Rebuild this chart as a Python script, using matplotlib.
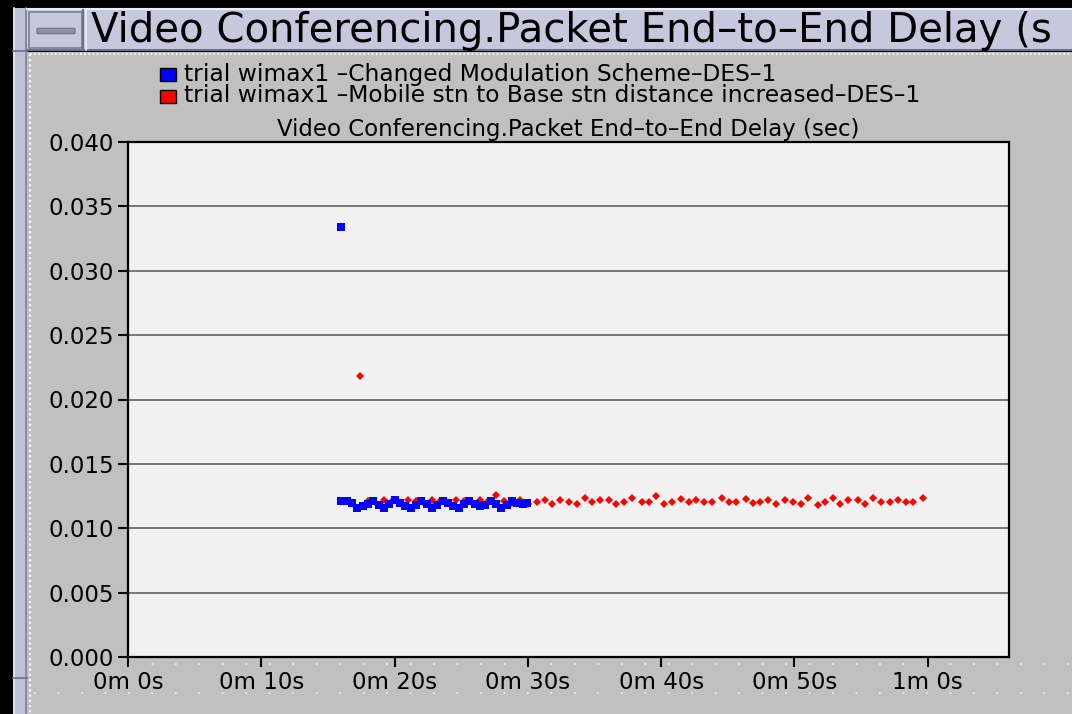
import matplotlib
matplotlib.use("Agg")
import matplotlib.pyplot as plt
from matplotlib.patches import Rectangle, FancyBboxPatch
from matplotlib.lines import Line2D

# ---------------- data ----------------
blue_label = "trial wimax1 –Changed Modulation Scheme–DES–1"
red_label = "trial wimax1 –Mobile stn to Base stn distance increased–DES–1"
window_title = "Video Conferencing.Packet End–to–End Delay (s"
axes_title = "Video Conferencing.Packet End–to–End Delay (sec)"

x_ticks = [0, 10, 20, 30, 40, 50, 60]
x_tick_labels = ["0m 0s", "0m 10s", "0m 20s", "0m 30s", "0m 40s", "0m 50s", "1m 0s"]
y_ticks = [0.0, 0.005, 0.010, 0.015, 0.020, 0.025, 0.030, 0.035, 0.040]
y_tick_labels = ["0.000", "0.005", "0.010", "0.015", "0.020", "0.025", "0.030", "0.035", "0.040"]

blue_times = [15.95, 16.0, 16.4, 16.8, 17.2, 17.6, 18.0, 18.4, 18.8, 19.2, 19.6, 20.0,
              20.4, 20.8, 21.2, 21.6, 22.0, 22.4, 22.8, 23.2, 23.6, 24.0, 24.4, 24.8,
              25.2, 25.6, 26.0, 26.4, 26.8, 27.2, 27.6, 28.0, 28.4, 28.8, 29.2, 29.6, 29.9]
blue_delay = [0.0334, 0.0121, 0.0121, 0.0120, 0.0116, 0.0117, 0.0119, 0.0121, 0.0118,
              0.0116, 0.0119, 0.0122, 0.0120, 0.0117, 0.0116, 0.0118, 0.0121, 0.0119,
              0.0116, 0.0118, 0.0121, 0.0120, 0.0117, 0.0116, 0.0119, 0.0121, 0.0119,
              0.0117, 0.0118, 0.0121, 0.0119, 0.0116, 0.0118, 0.0121, 0.0120, 0.0119, 0.0120]

red_times = [17.4, 18.0, 18.6, 19.2, 19.8, 20.4, 21.0, 21.6, 22.2, 22.8, 23.4, 24.0,
             24.6, 25.2, 25.8, 26.4, 27.0, 27.6, 28.2, 28.8, 29.4, 30.0,
             30.65, 31.28, 31.83, 32.40, 33.10, 33.70, 34.28, 34.85, 35.40, 36.10,
             36.65, 37.23, 37.83, 38.53, 39.10, 39.65, 40.20, 40.83, 41.50, 42.08,
             42.65, 43.20, 43.85, 44.53, 45.10, 45.65, 46.35, 46.90, 47.45, 48.03,
             48.60, 49.33, 49.90, 50.48, 51.05, 51.78, 52.33, 52.90, 53.45, 54.05,
             54.78, 55.33, 55.90, 56.53, 57.15, 57.78, 58.35, 58.90, 59.65]
red_delay = [0.0218, 0.0121, 0.0120, 0.0122, 0.0121, 0.0120, 0.0122, 0.0121, 0.0120,
             0.0122, 0.0121, 0.0120, 0.0122, 0.0121, 0.0120, 0.0122, 0.0121, 0.0126,
             0.0121, 0.0120, 0.0122, 0.0119,
             0.01206, 0.01219, 0.01188, 0.01219, 0.01206, 0.01188, 0.01232, 0.01206,
             0.01219, 0.01219, 0.01188, 0.01206, 0.01232, 0.01206, 0.01206, 0.01250,
             0.01188, 0.01206, 0.01225, 0.01206, 0.01219, 0.01206, 0.01206, 0.01232,
             0.01206, 0.01206, 0.01225, 0.01194, 0.01206, 0.01219, 0.01188, 0.01219,
             0.01206, 0.01188, 0.01232, 0.01181, 0.01206, 0.01232, 0.01188, 0.01219,
             0.01219, 0.01188, 0.01232, 0.01206, 0.01206, 0.01219, 0.01206, 0.01206,
             0.01232]

# ---------------- figure ----------------
W, H = 1072, 714
fig = plt.figure(figsize=(W / 100, H / 100), dpi=100, facecolor="black")


def frect(x0, y0, x1, y1, **kw):
    r = Rectangle((x0 / W, 1 - y1 / H), (x1 - x0) / W, (y1 - y0) / H,
                  transform=fig.transFigure, **kw)
    fig.add_artist(r)
    return r


def fline(xs, ys, **kw):
    fig.add_artist(Line2D([x / W for x in xs], [1 - y / H for y in ys],
                          transform=fig.transFigure, **kw))


# left strip
frect(13, 8, 27, 714, facecolor="#bfc2d6", edgecolor="none")
fline([14, 14], [8, 714], color="#e6e8f2", lw=1.2)
fline([26, 26], [8, 714], color="#7c8096", lw=1.2)
fline([13, 27], [51, 51], color="#6e7288", lw=1.2)
fline([13, 27], [678, 678], color="#6e7288", lw=1.2)

# title bar
frect(27, 8, 1072, 51, facecolor="#c6c9dd", edgecolor="none")
fline([27, 1072], [9, 9], color="#eceef6", lw=1.5)
fline([27, 1072], [50, 50], color="#6e7288", lw=1.5)
frect(29, 12, 82, 48, facecolor="#c6c9dd", edgecolor="#7c8096", lw=1.2)
fline([83, 83], [10, 50], color="#6e7288", lw=1.5)
fline([86, 86], [10, 50], color="#eceef6", lw=1.2)
fig.add_artist(FancyBboxPatch((38 / W, 1 - 33 / H), 36 / W, 4 / H,
                              boxstyle="round,pad=0.001", transform=fig.transFigure,
                              facecolor="#8d93ad", edgecolor="#6e7288", lw=0.8))
fig.text(91 / W, 1 - 31 / H, window_title, fontsize=29, family="DejaVu Sans",
         color="black", va="center", ha="left")

# main panel
frect(27, 52, 1072, 714, facecolor="#c0c0c0", edgecolor="none")
fline([30, 1072], [54, 54], color="white", lw=1.2, ls=(0, (1, 1.5)))
fline([30, 30], [54, 714], color="white", lw=1.5, ls=(0, (1, 1.5)))
fline([128, 1072], [664, 664], color="white", lw=1.3, alpha=0.7, ls=(0, (1, 12)))
fline([34, 1072], [693, 693], color="white", lw=1.3, alpha=0.7, ls=(0, (1, 12)))

# legend
frect(160, 68, 176, 81, facecolor="#0000ff", edgecolor="black", lw=1.0)
frect(160, 90, 176, 103, facecolor="#ff0000", edgecolor="black", lw=1.0)
fig.text(184 / W, 1 - 74 / H, blue_label, fontsize=16.8, family="DejaVu Sans",
         va="center", ha="left", color="black")
fig.text(184 / W, 1 - 96 / H, red_label, fontsize=16.8, family="DejaVu Sans",
         va="center", ha="left", color="black")

# axes
ax = fig.add_axes([128 / W, 1 - 657 / H, (1009 - 128) / W, (657 - 142) / H])
ax.set_zorder(10)
ax.set_facecolor("#f1f1f1")
ax.set_xlim(0, 66.1)
ax.set_ylim(0, 0.040)
ax.set_yticks(y_ticks)
ax.set_yticklabels(y_tick_labels)
ax.set_xticks(x_ticks)
ax.set_xticklabels(x_tick_labels)
ax.yaxis.grid(True, color="#767676", lw=1.4)
ax.set_axisbelow(True)
for s in ax.spines.values():
    s.set_color("black")
    s.set_linewidth(1.6)
ax.tick_params(axis="both", direction="out", length=7, width=1.5, color="black",
               labelsize=16.5, labelcolor="black", pad=3)
for lab in ax.get_xticklabels() + ax.get_yticklabels():
    lab.set_family("DejaVu Sans")

ax.plot(red_times, red_delay, linestyle="none", marker="D", markersize=3.6,
        color="#ff0000", markeredgewidth=0, zorder=3)
ax.plot(blue_times, blue_delay, linestyle="none", marker="s", markersize=5.5,
        color="#0000ff", markeredgewidth=0, zorder=4)

ax.set_title(axes_title, fontsize=16.5, family="DejaVu Sans", color="black", pad=4)

fig.savefig("out.png", dpi=100, facecolor=fig.get_facecolor())
